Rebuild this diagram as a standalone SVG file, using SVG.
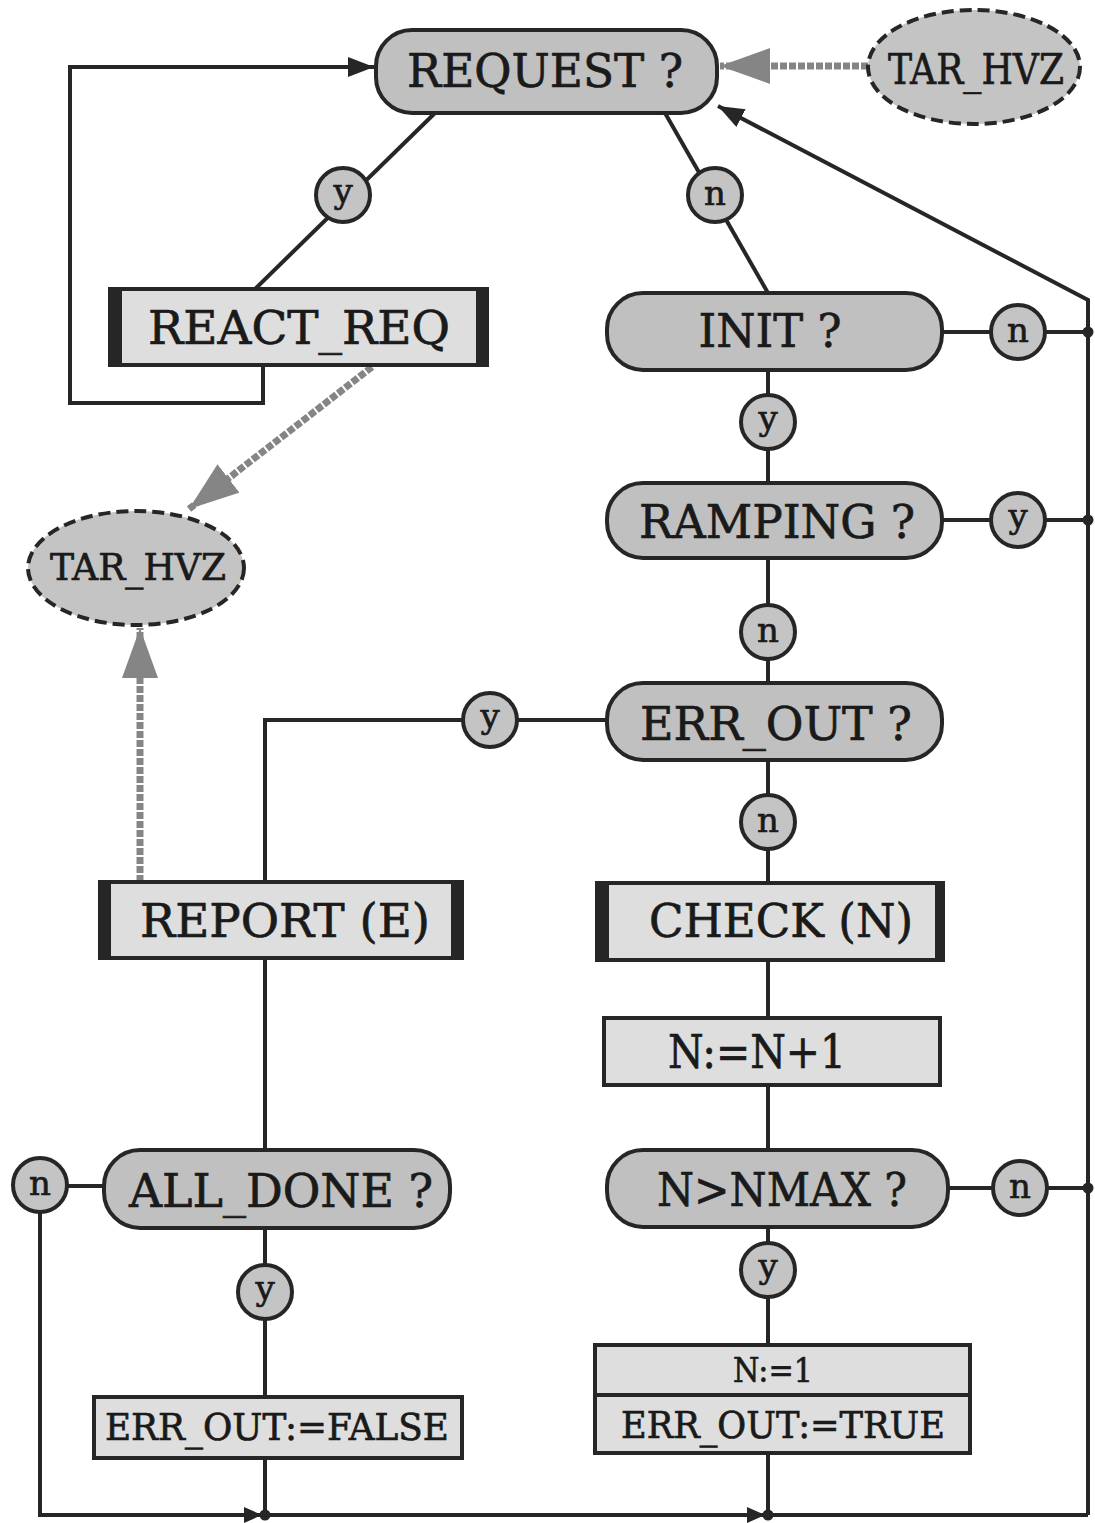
<svg xmlns="http://www.w3.org/2000/svg" width="1095" height="1523" viewBox="0 0 1095 1523">
<style>
.dec{fill:#c0c0c0;stroke:#262626;stroke-width:4}
.proc{fill:#dedede;stroke:#262626;stroke-width:4}
.bar{fill:#262626}
.ell{fill:#c4c4c4;stroke:#262626;stroke-width:4;stroke-dasharray:12 6}
.lbl{fill:#c4c4c4;stroke:#262626;stroke-width:4}
.t{font-family:"DejaVu Serif","Liberation Serif",serif;fill:#1a1a1a;stroke:#1a1a1a;stroke-width:0.7;text-anchor:middle}
.big{font-size:47px}
.mid{font-size:42px}
.sm{font-size:37px}
.ct{font-size:34px}
.ln{fill:none;stroke:#262626;stroke-width:4}
.gr{fill:none;stroke:#858585;stroke-width:7;stroke-dasharray:7 2}
.dot{fill:#262626}
</style>
<defs>
<marker id="ab" markerUnits="userSpaceOnUse" viewBox="0 0 26 20" markerWidth="26" markerHeight="20" refX="26" refY="10" orient="auto"><path d="M0,0 L26,10 L0,20 z" fill="#262626"/></marker>
<marker id="abs" markerUnits="userSpaceOnUse" viewBox="0 0 18 16" markerWidth="18" markerHeight="16" refX="18" refY="8" orient="auto"><path d="M0,0 L18,8 L0,16 z" fill="#262626"/></marker>
<marker id="ag" markerUnits="userSpaceOnUse" viewBox="0 0 50 36" markerWidth="50" markerHeight="36" refX="50" refY="18" orient="auto"><path d="M0,0 L50,18 L0,36 z" fill="#858585"/></marker>
</defs>

<g id="connectors">
<path class="ln" d="M263,365 V403 H70 V67 H374" marker-end="url(#ab)"/>
<path class="ln" d="M435,113 L255,289"/>
<path class="ln" d="M665,113 L768,293"/>
<path class="ln" d="M1088,1515 V300 L718,106" marker-end="url(#ab)"/>
<path class="ln" d="M942,332 H1088"/>
<path class="ln" d="M768,370 V483"/>
<path class="ln" d="M942,520 H1088"/>
<path class="ln" d="M768,558 V683"/>
<path class="ln" d="M607,720 H265 V882"/>
<path class="ln" d="M768,760 V883"/>
<path class="ln" d="M768,960 V1018"/>
<path class="ln" d="M768,1085 V1150"/>
<path class="ln" d="M948,1188 H1088"/>
<path class="ln" d="M768,1227 V1345"/>
<path class="ln" d="M768,1453 V1515"/>
<path class="ln" d="M265,958 V1150"/>
<path class="ln" d="M265,1228 V1397"/>
<path class="ln" d="M265,1458 V1515"/>
<path class="ln" d="M104,1186 H40 V1515 H262" marker-end="url(#abs)"/>
<path class="ln" d="M265,1515 H765" marker-end="url(#abs)"/>
<path class="ln" d="M768,1515 H1088"/>
<circle class="dot" cx="265" cy="1515" r="5.5"/>
<circle class="dot" cx="768" cy="1515" r="5.5"/>
<circle class="dot" cx="1088" cy="332" r="5.5"/>
<circle class="dot" cx="1088" cy="520" r="5.5"/>
<circle class="dot" cx="1088" cy="1188" r="5.5"/>
<path class="gr" d="M868,66 H720" marker-end="url(#ag)"/>
<path class="gr" d="M372,367 L189,509" marker-end="url(#ag)"/>
<path class="gr" d="M140,882 V628" marker-end="url(#ag)"/>
</g>

<g id="request">
<rect class="dec" x="376" y="30" width="341" height="83" rx="36"/>
<text class="t big" x="545" y="87" textLength="276" lengthAdjust="spacingAndGlyphs">REQUEST ?</text>
</g>
<g id="tar_hvz_top">
<ellipse class="ell" cx="974" cy="67" rx="106" ry="57"/>
<text class="t mid" x="976" y="84" textLength="176" lengthAdjust="spacingAndGlyphs">TAR_HVZ</text>
</g>
<g id="react_req">
<rect class="proc" x="110" y="289" width="377" height="76"/>
<rect class="bar" x="110" y="289" width="12" height="76"/>
<rect class="bar" x="476" y="289" width="11" height="76"/>
<text class="t big" x="299" y="344" textLength="302" lengthAdjust="spacingAndGlyphs">REACT_REQ</text>
</g>
<g id="tar_hvz_left">
<ellipse class="ell" cx="136" cy="568" rx="108" ry="57"/>
<text class="t sm" x="138" y="580" textLength="176" lengthAdjust="spacingAndGlyphs">TAR_HVZ</text>
</g>
<g id="init">
<rect class="dec" x="607" y="293" width="335" height="77" rx="36"/>
<text class="t big" x="770" y="347" textLength="143" lengthAdjust="spacingAndGlyphs">INIT ?</text>
</g>
<g id="ramping">
<rect class="dec" x="607" y="483" width="335" height="75" rx="36"/>
<text class="t big" x="777" y="538" textLength="276" lengthAdjust="spacingAndGlyphs">RAMPING ?</text>
</g>
<g id="err_out">
<rect class="dec" x="607" y="683" width="335" height="77" rx="36"/>
<text class="t big" x="776" y="740" textLength="272" lengthAdjust="spacingAndGlyphs">ERR_OUT ?</text>
</g>
<g id="check">
<rect class="proc" x="597" y="883" width="346" height="77"/>
<rect class="bar" x="597" y="883" width="12" height="77"/>
<rect class="bar" x="935" y="883" width="8" height="77"/>
<text class="t big" x="781" y="937" textLength="264" lengthAdjust="spacingAndGlyphs">CHECK (N)</text>
</g>
<g id="n_inc">
<rect class="proc" x="604" y="1018" width="336" height="67"/>
<text class="t big" x="757" y="1068" textLength="178" lengthAdjust="spacingAndGlyphs">N:=N+1</text>
</g>
<g id="nmax">
<rect class="dec" x="607" y="1150" width="341" height="77" rx="36"/>
<text class="t big" x="782" y="1206" textLength="250" lengthAdjust="spacingAndGlyphs">N&gt;NMAX ?</text>
</g>
<g id="set_true">
<rect class="proc" x="595" y="1345" width="375" height="108"/>
<line class="ln" x1="595" y1="1395" x2="970" y2="1395"/>
<text class="t ct" x="773" y="1382" textLength="80" lengthAdjust="spacingAndGlyphs">N:=1</text>
<text class="t sm" x="783" y="1438" textLength="324" lengthAdjust="spacingAndGlyphs">ERR_OUT:=TRUE</text>
</g>
<g id="report">
<rect class="proc" x="100" y="882" width="362" height="76"/>
<rect class="bar" x="100" y="882" width="11" height="76"/>
<rect class="bar" x="451" y="882" width="11" height="76"/>
<text class="t big" x="285" y="937" textLength="290" lengthAdjust="spacingAndGlyphs">REPORT (E)</text>
</g>
<g id="all_done">
<rect class="dec" x="104" y="1150" width="346" height="78" rx="36"/>
<text class="t big" x="281" y="1207" textLength="304" lengthAdjust="spacingAndGlyphs">ALL_DONE ?</text>
</g>
<g id="set_false">
<rect class="proc" x="94" y="1397" width="368" height="61"/>
<text class="t sm" x="277" y="1440" textLength="344" lengthAdjust="spacingAndGlyphs">ERR_OUT:=FALSE</text>
</g>

<g id="labels">
<g><circle class="lbl" cx="343" cy="195" r="27"/><text class="t ct" x="343" y="203">y</text></g>
<g><circle class="lbl" cx="715" cy="195" r="27"/><text class="t ct" x="715" y="205">n</text></g>
<g><circle class="lbl" cx="1018" cy="332" r="27"/><text class="t ct" x="1018" y="342">n</text></g>
<g><circle class="lbl" cx="768" cy="422" r="27"/><text class="t ct" x="768" y="430">y</text></g>
<g><circle class="lbl" cx="1018" cy="520" r="27"/><text class="t ct" x="1018" y="528">y</text></g>
<g><circle class="lbl" cx="768" cy="632" r="27"/><text class="t ct" x="768" y="642">n</text></g>
<g><circle class="lbl" cx="490" cy="720" r="27"/><text class="t ct" x="490" y="728">y</text></g>
<g><circle class="lbl" cx="768" cy="822" r="27"/><text class="t ct" x="768" y="832">n</text></g>
<g><circle class="lbl" cx="1020" cy="1188" r="27"/><text class="t ct" x="1020" y="1198">n</text></g>
<g><circle class="lbl" cx="768" cy="1270" r="27"/><text class="t ct" x="768" y="1278">y</text></g>
<g><circle class="lbl" cx="40" cy="1185" r="27"/><text class="t ct" x="40" y="1195">n</text></g>
<g><circle class="lbl" cx="265" cy="1292" r="27"/><text class="t ct" x="265" y="1300">y</text></g>
</g>
</svg>
